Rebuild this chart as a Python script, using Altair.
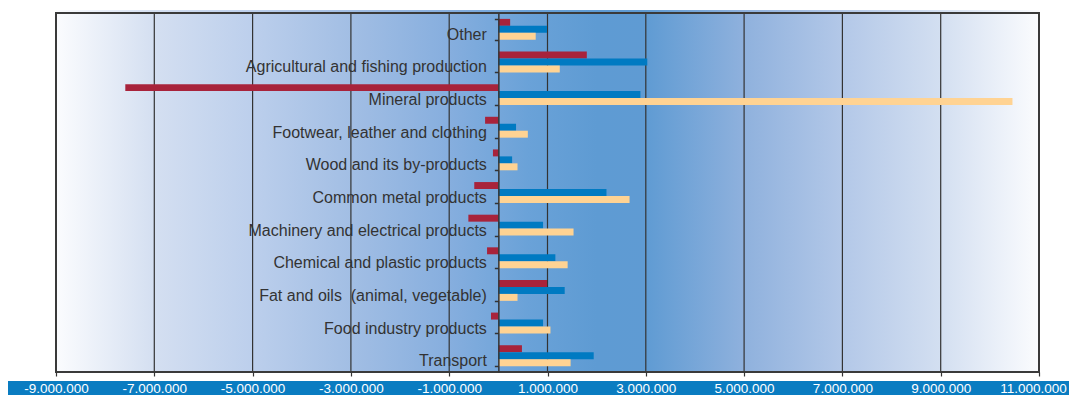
import altair as alt
import pandas as pd

categories = [
    "Other",
    "Agricultural and fishing production",
    "Mineral products",
    "Footwear, leather and clothing",
    "Wood and its by-products",
    "Common metal products",
    "Machinery and electrical products",
    "Chemical and plastic products",
    "Fat and oils \u00a0(animal, vegetable)",
    "Food industry products",
    "Transport",
]
series_names = ["Balance", "Exports", "Imports"]
balance = [240000, 1800000, -7590000, -270000, -110000, -490000, -610000, -230000, 990000, -150000, 480000]
exports = [990000, 3030000, 2890000, 360000, 280000, 2200000, 910000, 1160000, 1350000, 910000, 1940000]
imports = [760000, 1250000, 10460000, 600000, 390000, 2670000, 1530000, 1410000, 390000, 1060000, 1470000]
series_colors = ["#A8233B", "#007AC2", "#FFD393"]

tick_values = [-9000000, -7000000, -5000000, -3000000, -1000000, 1000000,
               3000000, 5000000, 7000000, 9000000, 11000000]
tick_labels = ["-9.000.000", "-7.000.000", "-5.000.000", "-3.000.000", "-1.000.000",
               "1.000.000", "3.000.000", "5.000.000", "7.000.000", "9.000.000", "11.000.000"]

W = 983
H = 359
PAD_L, PAD_T, PAD_R, PAD_B = 48, 5, 30, 23
x_min, x_max = -9000000, 11000000
zero_px = W * (0 - x_min) / (x_max - x_min)

rows = []
for i, c in enumerate(categories):
    for s, vals in zip(series_names, [balance, exports, imports]):
        rows.append({"category": c, "series": s, "value": vals[i]})
df = pd.DataFrame(rows)
ticks_df = pd.DataFrame({"t": tick_values})
one = pd.DataFrame({"a": [0]})

xscale = alt.Scale(domain=[x_min, x_max], nice=False, zero=False)

label_arr = "[" + ",".join("'" + l + "'" for l in tick_labels) + "]"
label_expr = label_arr + "[round((datum.value - (%d)) / 2000000)]" % x_min

gradient = {
    "gradient": "linear", "x1": 0, "x2": 1, "y1": 0, "y2": 0,
    "stops": [
        {"offset": 0.0, "color": "#FBFCFE"},
        {"offset": 0.1, "color": "#D4DFF1"},
        {"offset": 0.2, "color": "#BCCFEC"},
        {"offset": 0.3, "color": "#A2BEE4"},
        {"offset": 0.4, "color": "#86AEDE"},
        {"offset": 0.48, "color": "#6AA2D8"},
        {"offset": 0.55, "color": "#5E9BD3"},
        {"offset": 0.6, "color": "#5F9BD3"},
        {"offset": 0.7, "color": "#8FB1DD"},
        {"offset": 0.8, "color": "#B3C8E8"},
        {"offset": 0.9, "color": "#D3DFF1"},
        {"offset": 1.0, "color": "#FBFCFE"},
    ],
}

bg = alt.Chart(one).mark_rect(fill=gradient, strokeWidth=0).encode(
    x=alt.value(0), x2=alt.value("width"), y=alt.value(-3), y2=alt.value("height")
)

band = alt.Chart(one).mark_rect(fill="#0A7CC1", strokeWidth=0).encode(
    x=alt.value(-PAD_L), x2=alt.value(W + PAD_R), y=alt.value(H + 9), y2=alt.value(H + PAD_B)
)

grid = alt.Chart(ticks_df).mark_rule(color="#333333", strokeWidth=1.2).encode(
    x=alt.X("t:Q", scale=xscale,
            axis=alt.Axis(values=tick_values, labelExpr=label_expr, title=None,
                          grid=False, domain=False, tickColor="#333333", tickSize=4,
                          tickWidth=1.2, labelColor="#FFFFFF", labelFontSize=13.5,
                          labelFont="Liberation Sans", labelPadding=12,
                          labelBaseline="middle", zindex=1,
                          labelOffset={"condition": {"test": "datum.value >= %d" % x_max,
                                                     "value": -6},
                                       "value": 0},
                          labelFlush=False, labelOverlap=False)),
    y=alt.value(0), y2=alt.value("height"),
)

bars = alt.Chart(df).mark_bar(strokeWidth=0).encode(
    x=alt.X("value:Q", scale=xscale),
    y=alt.Y("category:N", sort=categories,
            scale=alt.Scale(paddingInner=0.36, paddingOuter=0.18),
            axis=alt.Axis(title=None, offset=-zero_px, tickBand="extent",
                          domainColor="#333333", domainWidth=1.5, tickColor="#333333",
                          tickSize=4, tickWidth=1.5, labelFontSize=16,
                          labelFont="Liberation Sans", labelColor="#333333",
                          labelPadding=8, labelLimit=400, labelOffset=5, zindex=1,
                          grid=False)),
    yOffset=alt.YOffset("series:N", sort=series_names),
    color=alt.Color("series:N", sort=series_names,
                    scale=alt.Scale(domain=series_names, range=series_colors),
                    legend=None),
)

frame = alt.Chart(one).mark_rect(fill=None, stroke="#3A3A3A", strokeWidth=2).encode(
    x=alt.value(0), x2=alt.value("width"), y=alt.value(0), y2=alt.value("height")
)

chart = alt.layer(bg, band, grid, bars, frame).properties(
    width=W, height=H,
    autosize=alt.AutoSizeParams(type="none"),
    padding={"left": PAD_L, "top": PAD_T, "right": PAD_R, "bottom": PAD_B},
).configure_view(stroke=None).configure(background="#FFFFFF")

chart.save("out.html", embed_options={"renderer": "svg", "actions": False})
